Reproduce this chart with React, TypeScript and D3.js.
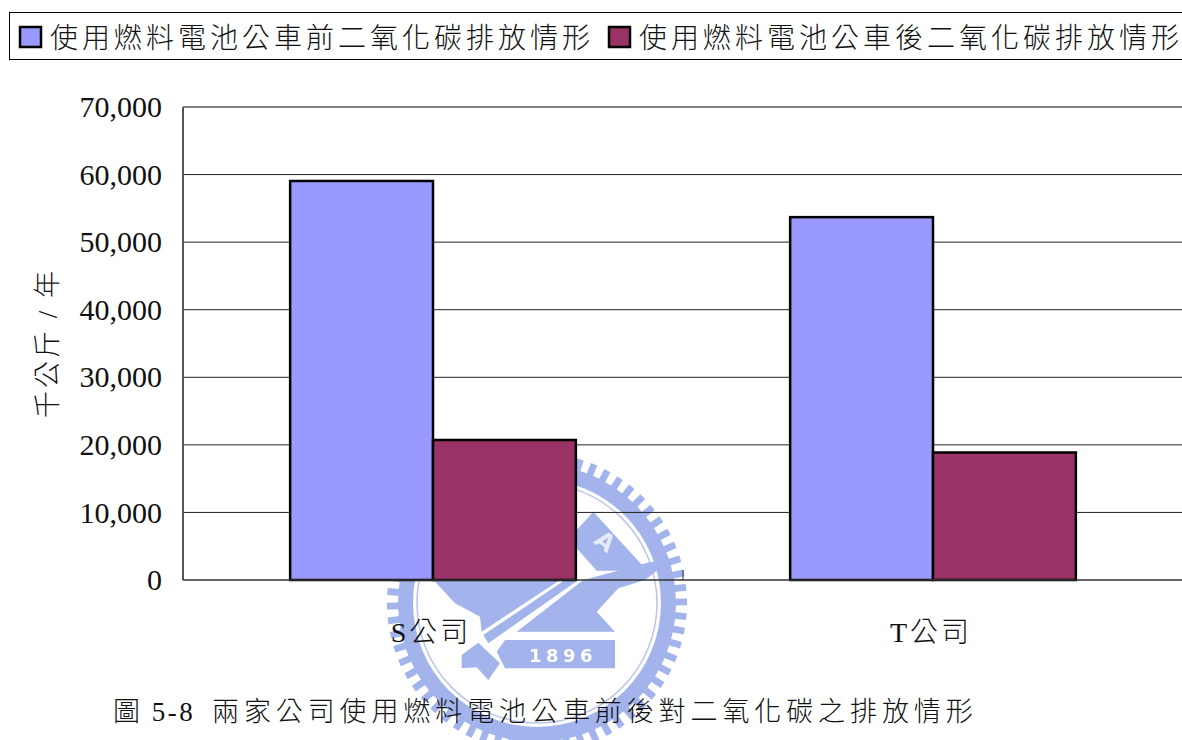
import React, { useEffect, useRef } from "react";
import * as d3 from "d3";

const categories = ["S公司", "T公司"];
const seriesNames = ["使用燃料電池公車前二氧化碳排放情形", "使用燃料電池公車後二氧化碳排放情形"];
const beforeValues = [59050, 53700];
const afterValues = [20720, 18870];
const seriesColors = ["#9999ff", "#993366"];
const yTicks = [0, 10000, 20000, 30000, 40000, 50000, 60000, 70000];
const yTitle = "千公斤 / 年";
const captionNum = "圖 5-8";
const captionText = "兩家公司使用燃料電池公車前後對二氧化碳之排放情形";

const W = 1182, H = 740;
const left = 183, right = 1183, top = 107, bottom = 580;
const FONT = "'Liberation Serif','Noto Sans CJK TC',serif";
const SEAL = "#a3b3ec";

function Seal() {
  const cx = 537, cy = 603;
  const teeth = d3.range(0, 360, 5.6);
  const upper = (pts: number[][]) =>
    d3.line()(pts.map(([x, y]) => [380 + x / 3, 450 + y / 3]) as [number, number][]) + "Z";
  const lower = (pts: number[][]) =>
    d3.line()(pts.map(([x, y]) => [385 + x / 3, 580 + y / 3]) as [number, number][]) + "Z";
  const arc = d3.arc();
  return (
    <g style={{ filter: "blur(0.7px)" }}>
      {teeth.map((a) => (
        <rect key={a} x={cx - 3.4} y={cy - 150} width={6.8} height={18} fill={SEAL}
          transform={`rotate(${a} ${cx} ${cy})`} />
      ))}
      <path transform={`translate(${cx},${cy})`} fill={SEAL}
        d={arc({ innerRadius: 124, outerRadius: 139, startAngle: 0, endAngle: Math.PI * 2 } as any) as string} />
      <circle cx={cx} cy={cy} r={120} fill="#fff" stroke="#b9c4ec" strokeWidth={1.5} />
      <path fill={SEAL} d={lower([[145, -60], [525, -60], [525, 0], [290, 155], [285, 110], [210, 70], [145, 0]])} />
      <path fill={SEAL} d={lower([[540, 0], [580, 0], [310, 190], [295, 165]])} />
      <path fill={SEAL} d={lower([[230, 225], [280, 188], [345, 250], [310, 300], [275, 262], [230, 265]])} />
      <path fill={SEAL} d={upper([[590, 240], [640, 185], [795, 355], [790, 362], [650, 362], [590, 295]])} />
      <path fill={SEAL} d={lower([[595, 0], [800, -55], [850, -55], [780, 0], [700, 25], [635, 95], [690, 155], [395, 155]])} />
      <path fill={SEAL} d={lower([[360, 180], [690, 180], [690, 265], [360, 265], [335, 215]])} />
      <text x={0} y={0} transform="translate(600,548) rotate(38)" textAnchor="middle" fill="#e6ebfb"
        fontFamily="'DejaVu Sans',sans-serif" fontWeight={700} fontSize={24}>A</text>
      <text x={563} y={662} textAnchor="middle" fill="#fff" fontFamily="'DejaVu Sans',sans-serif"
        fontWeight={700} fontSize={18} letterSpacing={4.5}>1896</text>
    </g>
  );
}

export default function App() {
  const axisRef = useRef<SVGGElement>(null);
  const y = d3.scaleLinear().domain([0, 70000]).range([bottom, top]);
  const x0 = d3.scaleBand().domain(categories).range([left, right]).paddingInner(3 / 7).paddingOuter(3 / 14);
  const x1 = d3.scaleBand().domain(["0", "1"]).range([0, x0.bandwidth()]);
  const rows = categories.map((c, i) => ({ c, vals: [beforeValues[i], afterValues[i]] }));

  useEffect(() => {
    const g = d3.select(axisRef.current!);
    g.call(
      d3.axisLeft(y).tickValues(yTicks).tickSize(0).tickPadding(21).tickFormat(d3.format(",") as any) as any
    );
    g.select(".domain").remove();
    g.selectAll("text").attr("font-family", FONT).attr("font-size", 30).attr("fill", "#111");
  }, []);

  return (
    <svg width={W} height={H} viewBox={`0 0 ${W} ${H}`}
      style={{ position: "absolute", left: 0, top: 0, background: "#fff" }}>
      <Seal />
      {yTicks.filter((t) => t > 0 && t < 70000).map((t) => (
        <line key={t} x1={left} x2={right} y1={y(t)} y2={y(t)} stroke="#222" strokeWidth={1} />
      ))}
      <line x1={left} x2={right} y1={top} y2={top} stroke="#808080" strokeWidth={2} />
      <line x1={left} x2={left} y1={top} y2={bottom} stroke="#555" strokeWidth={2} />
      {rows.map((r) =>
        r.vals.map((v, j) => (
          <rect key={r.c + j} x={x0(r.c)! + x1(String(j))!} y={y(v)} width={x1.bandwidth()} height={bottom - y(v)}
            fill={seriesColors[j]} stroke="#000" strokeWidth={2.5} />
        ))
      )}
      <line x1={left} x2={right} y1={bottom} y2={bottom} stroke="#333" strokeWidth={1.5} />
      <line x1={left + 500} x2={left + 500} y1={bottom - 10} y2={bottom} stroke="#333" strokeWidth={1} />
      <g ref={axisRef} transform={`translate(${left},0)`} />
      {categories.map((c) => (
        <text key={c} x={x0(c)! + x0.bandwidth() / 2 - 2} y={642} textAnchor="middle" fontFamily={FONT}
          fontSize={28} fontWeight={300} letterSpacing={3} fill="#111">{c}</text>
      ))}
      <text transform="translate(57,343) rotate(-90)" textAnchor="middle" fontFamily={FONT} fontSize={27}
        fontWeight={300} letterSpacing={3} fill="#111">{yTitle}</text>

      <rect x={9.5} y={12.5} width={1190} height={47} fill="#fff" stroke="#000" strokeWidth={1} />
      {seriesNames.map((s, i) => (
        <g key={s} transform={`translate(${20 + i * 589},0)`}>
          <rect x={0} y={27} width={21} height={20} fill={seriesColors[i]} stroke="#000" strokeWidth={2.5} />
          <text x={30} y={48} fontFamily={FONT} fontSize={28} fontWeight={300} letterSpacing={4} fill="#111">{s}</text>
        </g>
      ))}

      <text x={113} y={721} fontFamily={FONT} fontSize={27} fontWeight={300} fill="#111" letterSpacing={2.5}>{captionNum}</text>
      <text x={212} y={721} fontFamily={FONT} fontSize={27} fontWeight={300} letterSpacing={4.9} fill="#111">{captionText}</text>
    </svg>
  );
}
